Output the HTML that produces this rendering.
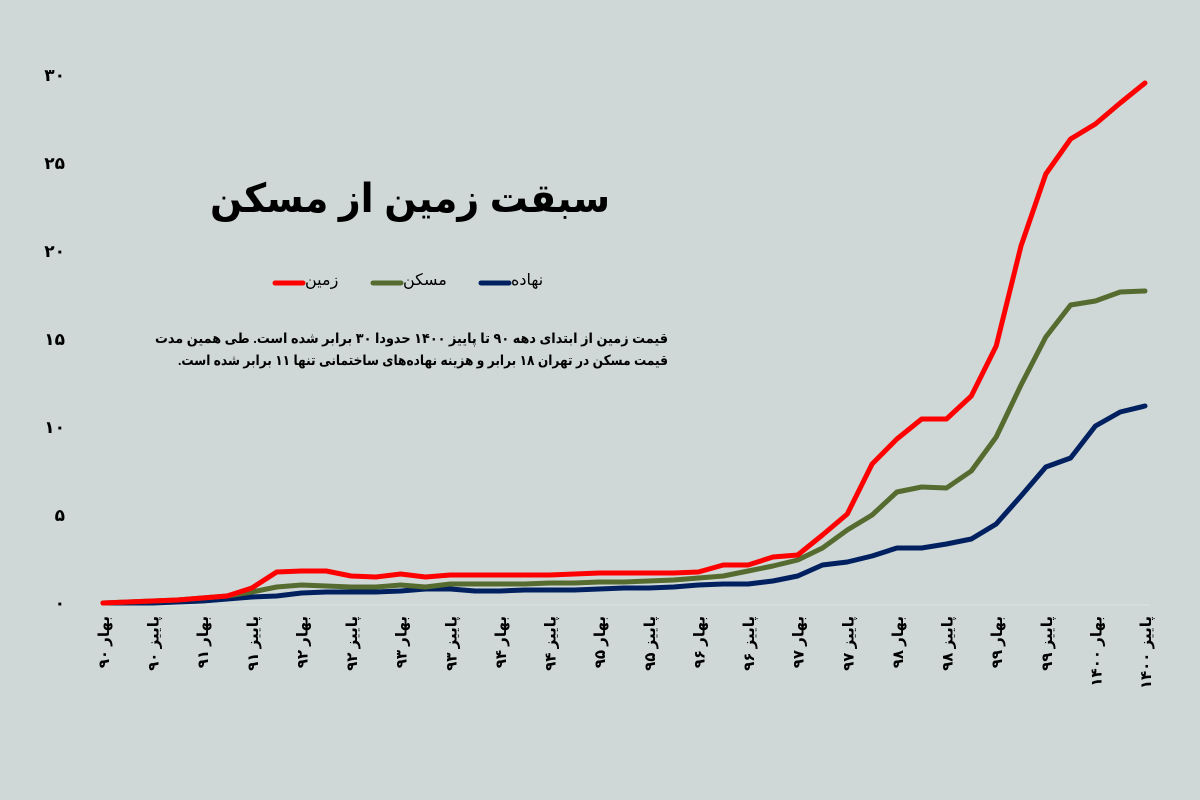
<!DOCTYPE html>
<html><head><meta charset="utf-8"><style>
html,body{margin:0;padding:0;background:#cfd8d6;}
svg{display:block;font-family:"Liberation Sans","DejaVu Sans",sans-serif;}
</style></head><body>
<svg width="1200" height="800" viewBox="0 0 1200 800" xmlns="http://www.w3.org/2000/svg">
<rect width="1200" height="800" fill="#cfd8d6"/>
<line x1="100" y1="605" x2="1150" y2="605" stroke="#dde4e2" stroke-width="1"/>
<g font-size="17" font-weight="bold" fill="#000" text-anchor="end" direction="ltr">
<text x="65" y="609">۰</text>
<text x="65" y="521">۵</text>
<text x="65" y="433">۱۰</text>
<text x="65" y="345">۱۵</text>
<text x="65" y="257">۲۰</text>
<text x="65" y="169">۲۵</text>
<text x="65" y="81">۳۰</text>
</g>
<text x="410" y="212" font-size="40" font-weight="bold" text-anchor="middle" fill="#000" textLength="400" lengthAdjust="spacingAndGlyphs">سبقت زمین از مسکن</text>
<g font-size="16" fill="#000">
<line x1="275" y1="283" x2="303" y2="283" stroke="#ff0000" stroke-width="5" stroke-linecap="round"/>
<text x="305" y="285">زمین</text>
<line x1="373" y1="283" x2="401" y2="283" stroke="#556b2f" stroke-width="5" stroke-linecap="round"/>
<text x="403" y="285">مسکن</text>
<line x1="481" y1="283" x2="509" y2="283" stroke="#002060" stroke-width="5" stroke-linecap="round"/>
<text x="511" y="285">نهاده</text>
</g>
<g font-size="14" font-weight="bold" fill="#000" text-anchor="start" direction="rtl">
<text x="668" y="343" textLength="513" lengthAdjust="spacingAndGlyphs">قیمت زمین از ابتدای دهه ۹۰ تا پاییز ۱۴۰۰ حدودا ۳۰ برابر شده است. طی همین مدت</text>
<text x="668" y="365" textLength="490" lengthAdjust="spacingAndGlyphs">قیمت مسکن در تهران ۱۸ برابر و هزینه نهاده‌های ساختمانی تنها ۱۱ برابر شده است.</text>
</g>
<g fill="none" stroke-width="5" stroke-linejoin="round" stroke-linecap="round" id="lines"></g>
<g id="xl" font-size="15" font-weight="bold" fill="#000"></g>
<script>
(function(){
var R=[603,602,601,600,598,596,588,572,571,571,576,577,574,577,575,575,575,575,575,574,573,573,573,573,572,565,565,557,555,535,514,464,439,419,419,396,346,246,174,139,124,103,83];
var G=[603,602,601,600,598,596,592,587,585,586,587,587,585,587,584,584,584,584,583,583,582,582,581,580,578,576,571,566,560,548,530,515,492,487,488,471,437,385,337,305,301,292,291];
var B=[603,603,603,602,601,599,597,596,593,592,592,592,591,589,589,591,591,590,590,590,589,588,588,587,585,584,584,581,576,565,562,556,548,548,544,539,524,496,467,458,426,412,406];
var ns="http://www.w3.org/2000/svg",g=document.getElementById("lines");
function pl(a,c){var p=a.map(function(y,i){return (103+24.81*i).toFixed(1)+","+y;}).join(" ");
var e=document.createElementNS(ns,"polyline");e.setAttribute("points",p);e.setAttribute("stroke",c);g.appendChild(e);}
pl(B,"#002060");pl(G,"#556b2f");pl(R,"#ff0000");
var d="۰۱۲۳۴۵۶۷۸۹";function fa(n){return String(n).split("").map(function(c){return d[+c];}).join("");}
var xl=document.getElementById("xl");
for(var k=0;k<22;k++){var yr=90+Math.floor(k/2);var s=(k%2?"پاییز ":"بهار ")+fa(yr>99?1400:yr);
var x=103+49.62*k+6;var t=document.createElementNS(ns,"text");
t.setAttribute("transform","translate("+x+",616) rotate(-90)");t.setAttribute("text-anchor","end");t.setAttribute("direction","ltr");
t.textContent=s;xl.appendChild(t);}
})();
</script>
</svg>
</body></html>
